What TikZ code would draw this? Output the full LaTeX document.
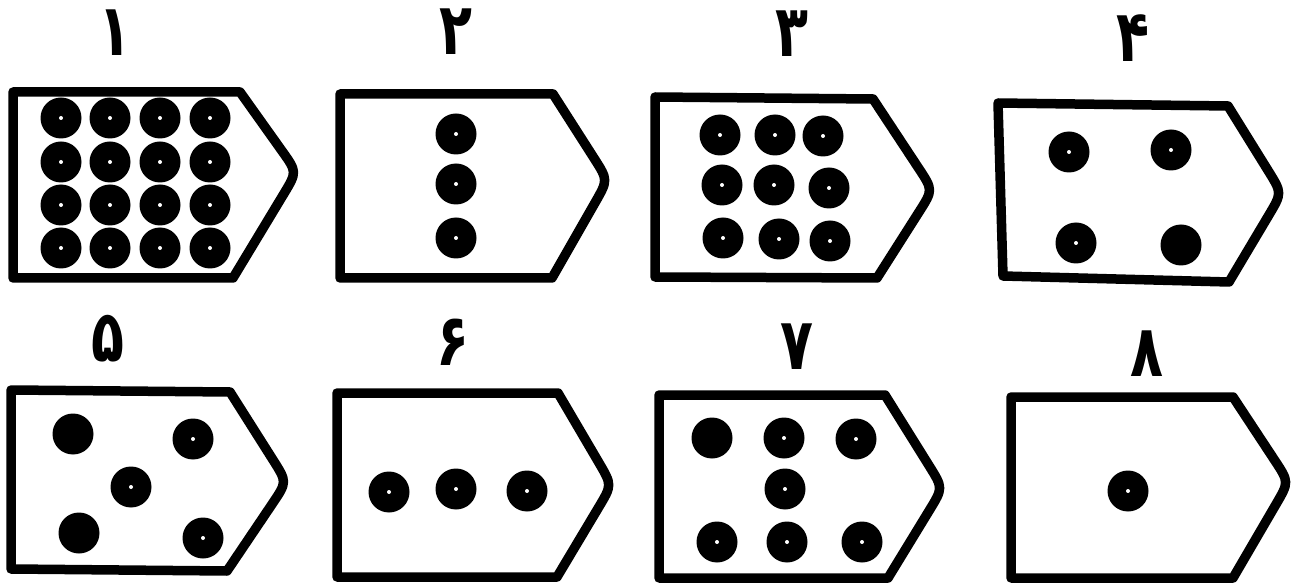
\documentclass[tikz,border=0pt]{standalone}
\usepackage{fontspec}
\usepackage{graphicx}
\usetikzlibrary{calc}
\newfontfamily\arabicfont[Script=Arabic]{DejaVu Sans}
\TeXXeTstate=1
\newcommand\tagoutline[5]{\draw[outline] (#1) -- (#2) -- ($(#3)!26pt!(#2)$) .. controls (#3) .. ($(#3)!26pt!(#4)$) -- (#4) -- (#5) -- cycle;}
\newcommand\pdigit[1]{\scalebox{0.75}[1]{\char"#1}}
\begin{document}
\begin{tikzpicture}[x=1pt,y=-1pt,
  outline/.style={line width=9.5pt, line join=round},
  dot/.style={circle, fill=black, inner sep=0pt, minimum size=41pt,
    path picture={\fill[white] (path picture bounding box.center) circle (2pt);}},
  soliddot/.style={circle, fill=black, inner sep=0pt, minimum size=41pt},
  num/.style={font=\arabicfont\bfseries\fontsize{72}{76}\selectfont, inner sep=0pt, anchor=base}]
\fill[white] (0,0) rectangle (1296,585);
\useasboundingbox (0,0) rectangle (1296,585);

% outlines
\tagoutline{13,92}{240,92}{297,172}{233,278}{13,278}
\tagoutline{340,94}{553,94}{608,180}{552,278}{340,278}
\tagoutline{655,97}{873,99}{933,190}{877,278}{655,277}
\tagoutline{998,103}{1228,106}{1282,193}{1229,282}{1003,276}
\tagoutline{11,390}{230,392}{287,482}{227,571}{11,569}
\tagoutline{337,393}{558,393}{612,485}{557,577}{337,577}
\tagoutline{659,395}{885,395}{943,488}{888,578}{659,578}
\tagoutline{1011,397}{1233,397}{1289,482}{1233,578}{1011,578}

% labels
\node[num] (n1) at (115,56) {\pdigit{06F1}};
\node[num] (n2) at (456,55) {\pdigit{06F2}};
\node[num] (n3) at (792,57) {\pdigit{06F3}};
\node[num] (n4) at (1133,62) {\pdigit{06F4}};
\node[num] (n5) at (108,362) {\pdigit{06F5}};
\node[num] (n6) at (453,366) {\pdigit{06F6}};
\node[num] (n7) at (797,370) {\pdigit{06F7}};
\node[num] (n8) at (1147,376) {\pdigit{06F8}};

% dots of shape 1
\foreach \x/\y [count=\i] in {61/118,110/118,160/118,210/118,
  61/162,110/162,160/162,210/162,
  61/205,110/205,160/205,210/205,
  61/248,110/248,160/248,210/248}
  \node[dot] (a\i) at (\x,\y) {};
% shape 2
\foreach \x/\y [count=\i] in {456/134,456/184,456/238}
  \node[dot] (b\i) at (\x,\y) {};
% shape 3
\foreach \x/\y [count=\i] in {720/135,775/135,823/136,
  722/185,774/185,829/188,
  723/238,779/239,830/241}
  \node[dot] (c\i) at (\x,\y) {};
% shape 4
\node[dot] (d1) at (1069,152) {};
\node[dot] (d2) at (1171,150) {};
\node[dot] (d3) at (1076,243) {};
\node[soliddot] (d4) at (1181,245) {};
% shape 5
\node[soliddot] (e1) at (73,434) {};
\node[dot] (e2) at (193,439) {};
\node[dot] (e3) at (131,487) {};
\node[soliddot] (e4) at (79,533) {};
\node[dot] (e5) at (203,538) {};
% shape 6
\foreach \x/\y [count=\i] in {389/492,456/489,527/491}
  \node[dot] (f\i) at (\x,\y) {};
% shape 7
\node[soliddot] (g1) at (712,438) {};
\node[dot] (g2) at (784,438) {};
\node[dot] (g3) at (856,439) {};
\node[dot] (g4) at (785,489) {};
\node[dot] (g5) at (717,542) {};
\node[dot] (g6) at (787,542) {};
\node[dot] (g7) at (862,542) {};
% shape 8
\node[dot] (h1) at (1128,491) {};
\end{tikzpicture}
\end{document}
